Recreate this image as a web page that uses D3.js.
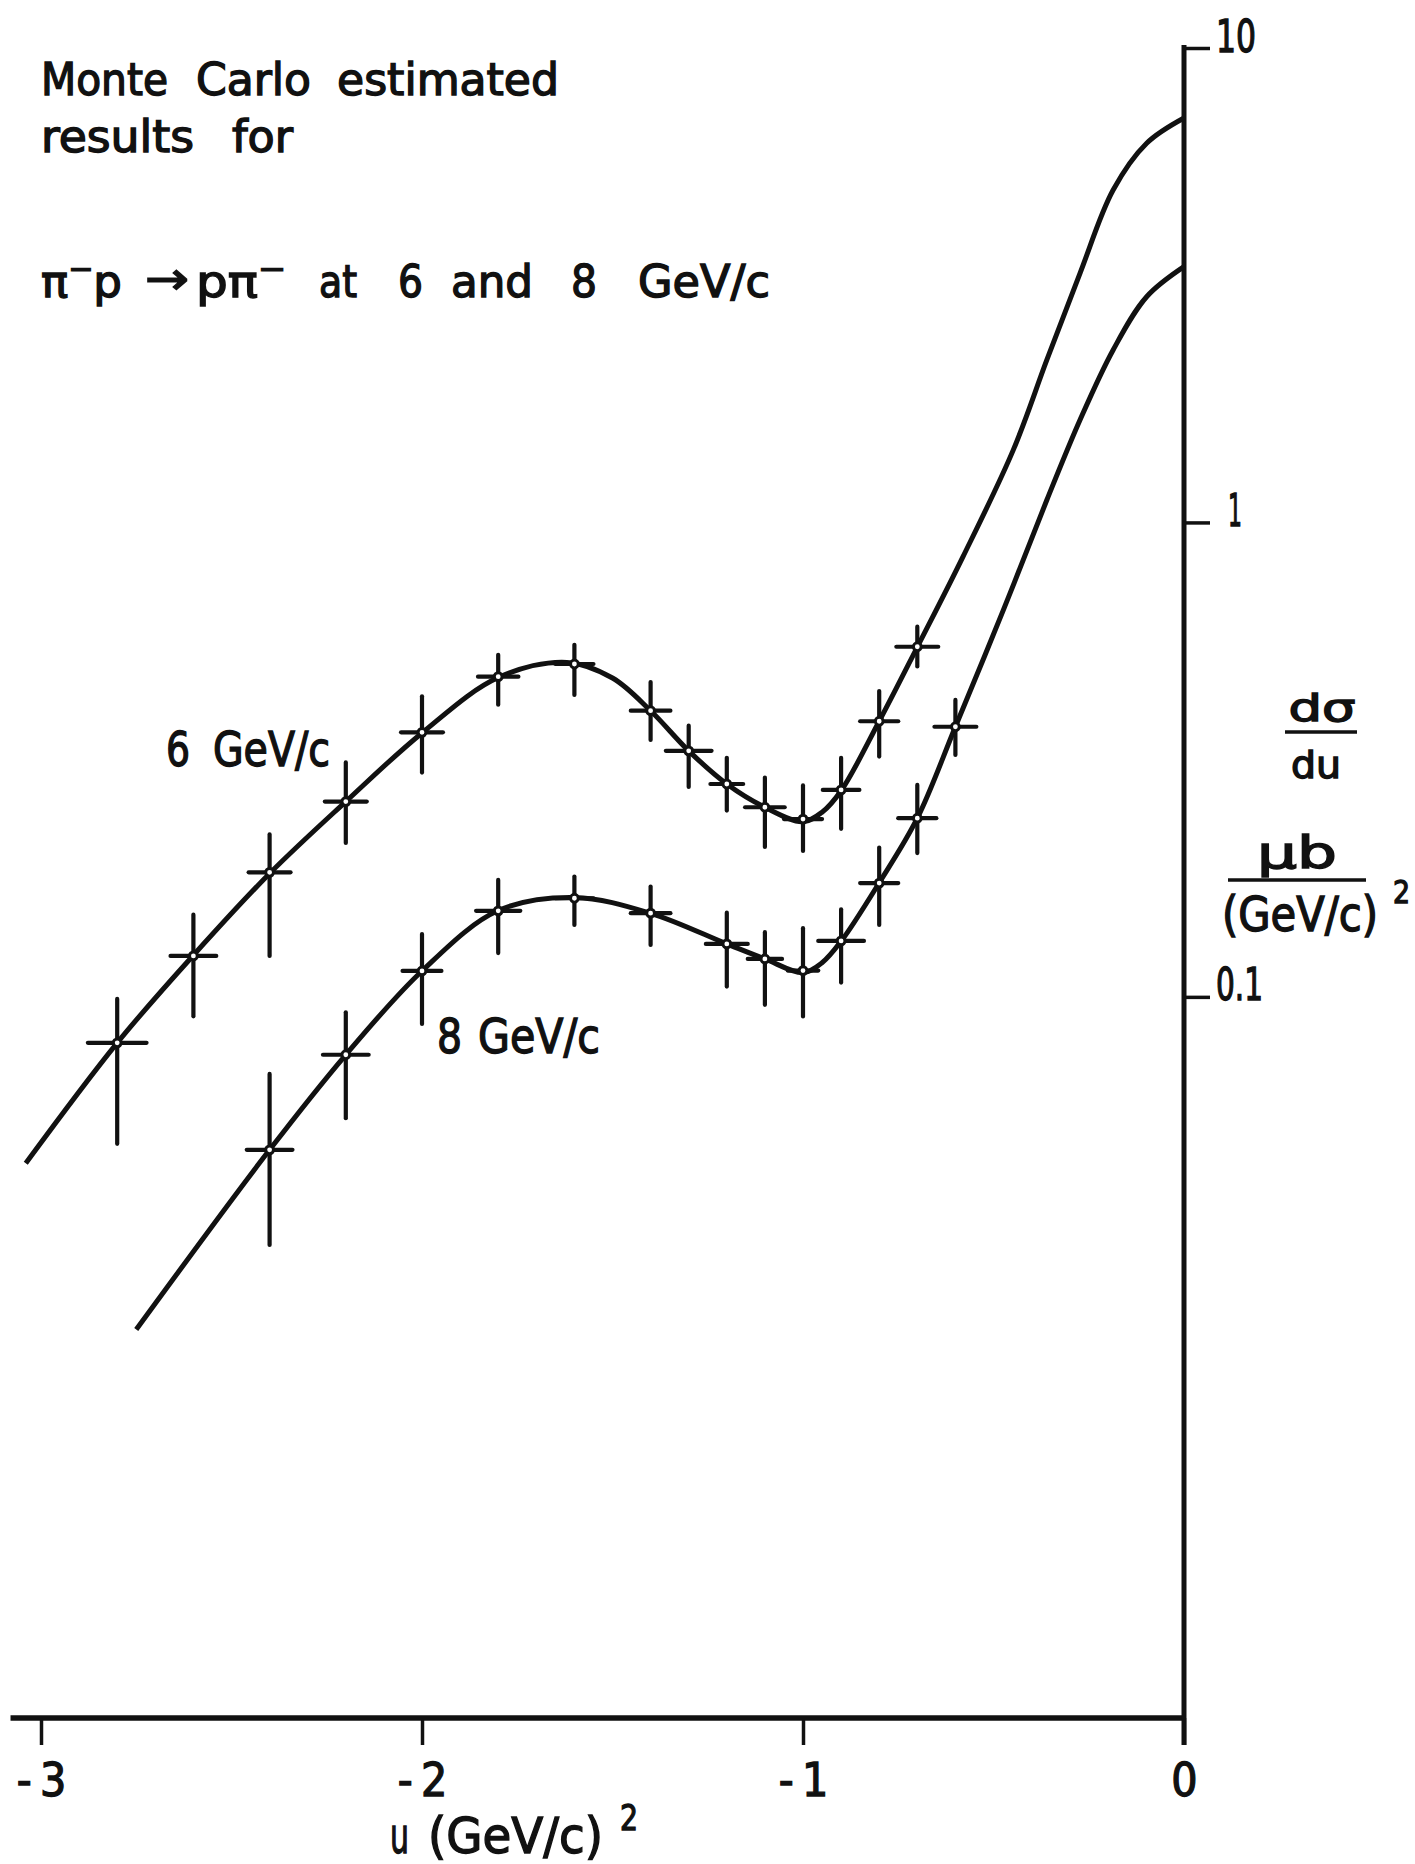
<!DOCTYPE html>
<html>
<head>
<meta charset="utf-8">
<script src="https://cdn.jsdelivr.net/npm/d3@7"></script>
<style>
  body { margin: 0; background: #fff; }
  svg text {
    font-family: "Liberation Sans Narrow", "DejaVu Sans Condensed", "Liberation Sans", sans-serif;
    fill: #111; stroke: #111; stroke-width: 1.3px;
  }
</style>
</head>
<body>
<div id="chart"></div>
<script>
// ---- data ----
// 6 GeV/c Monte Carlo points
const u6  = [-2.8, -2.6, -2.4, -2.2, -2.0, -1.8, -1.6, -1.4, -1.3, -1.2, -1.1, -1.0, -0.9, -0.8, -0.7];
const v6  = [0.080, 0.122, 0.183, 0.258, 0.361, 0.473, 0.503, 0.401, 0.330, 0.281, 0.251, 0.237, 0.273, 0.381, 0.547];
const hi6 = [0.099, 0.149, 0.220, 0.312, 0.430, 0.526, 0.552, 0.461, 0.373, 0.319, 0.290, 0.279, 0.319, 0.441, 0.603];
const lo6 = [0.049, 0.091, 0.122, 0.211, 0.297, 0.413, 0.433, 0.348, 0.277, 0.247, 0.207, 0.203, 0.226, 0.321, 0.497];
const du6 = [0.077, 0.06, 0.055, 0.055, 0.055, 0.053, 0.05, 0.052, 0.06, 0.043, 0.052, 0.05, 0.048, 0.05, 0.055];

// 8 GeV/c Monte Carlo points
const u8  = [-2.4, -2.2, -2.0, -1.8, -1.6, -1.4, -1.2, -1.1, -1.0, -0.9, -0.8, -0.7, -0.6];
const v8  = [0.0476, 0.0755, 0.1134, 0.1518, 0.1614, 0.1501, 0.1293, 0.1202, 0.1136, 0.1312, 0.1737, 0.238, 0.371];
const hi8 = [0.0688, 0.0928, 0.1356, 0.1764, 0.1793, 0.1708, 0.1505, 0.1369, 0.1396, 0.1530, 0.2064, 0.2797, 0.4225];
const lo8 = [0.0300, 0.0555, 0.0877, 0.1237, 0.1418, 0.1287, 0.1051, 0.0962, 0.0909, 0.1072, 0.1418, 0.2009, 0.3236];
const du8 = [0.06, 0.06, 0.051, 0.058, 0.05, 0.052, 0.055, 0.045, 0.04, 0.06, 0.05, 0.05, 0.055];

// hand drawn curves through the points
const curve6U = [-3.04, -2.8, -2.6, -2.4, -2.2, -2.0, -1.8, -1.62, -1.5, -1.4, -1.3, -1.2, -1.1, -1.0, -0.95, -0.9, -0.8, -0.7, -0.58, -0.448, -0.36, -0.273, -0.186, -0.098, 0];
const curve6V = [0.0446, 0.080, 0.1224, 0.182, 0.258, 0.360, 0.471, 0.507, 0.470, 0.401, 0.330, 0.281, 0.251, 0.234, 0.245, 0.272, 0.381, 0.546, 0.847, 1.422, 2.20, 3.35, 5.02, 6.30, 7.12];
const curve8U = [-2.75, -2.4, -2.2, -2.0, -1.8, -1.6, -1.4, -1.2, -1.1, -1.0, -0.95, -0.9, -0.8, -0.7, -0.6, -0.474, -0.36, -0.273, -0.186, -0.098, 0];
const curve8V = [0.0199, 0.0476, 0.0755, 0.1134, 0.152, 0.162, 0.150, 0.1293, 0.1202, 0.1125, 0.118, 0.131, 0.174, 0.238, 0.371, 0.654, 1.115, 1.644, 2.31, 2.99, 3.46];

const xTicks = [-3, -2, -1, 0];
const xTickLabels = ["-\u20093", "-\u20092", "-\u20091", "0"];
const yTicks = [10, 1, 0.1];
const yTickLabels = ["10", "1", "0.1"];

// ---- layout ----
const W = 1415, H = 1864;
const svg = d3.select("#chart").append("svg")
  .attr("width", W).attr("height", H)
  .style("background", "#fff");

const x = d3.scaleLinear().domain([-3, 0]).range([41, 1184]);
const y = d3.scaleLog().domain([Math.pow(10, -2.52), 10]).range([1718, 48]);

const ink = "#111";

// small helper for a piece of text squeezed to a measured width
function word(x0, y0, str, size, w, anchor) {
  const t = svg.append("text")
    .attr("x", x0).attr("y", y0)
    .attr("font-size", size)
    .attr("text-anchor", anchor || "start")
    .text(str);
  if (w) t.attr("textLength", w).attr("lengthAdjust", "spacingAndGlyphs");
  return t;
}

// x axis
const xAxis = svg.append("g")
  .attr("transform", `translate(0, ${y.range()[0]})`)
  .call(d3.axisBottom(x).tickValues(xTicks).tickSize(27).tickFormat((d, i) => xTickLabels[i]));
xAxis.select(".domain").remove();
xAxis.selectAll(".tick line").attr("stroke", ink).attr("stroke-width", 3.5);
xAxis.selectAll(".tick text")
  .attr("y", 78).attr("dy", 0)
  .attr("font-size", 46)
  .attr("fill", ink);
svg.append("line")
  .attr("x1", x(-3.08)).attr("x2", x(0) + 2)
  .attr("y1", y.range()[0]).attr("y2", y.range()[0])
  .attr("stroke", ink).attr("stroke-width", 5.5);

// y axis, on the right at u = 0
const yLabelW = [40, 14, 47];
const yAxis = svg.append("g")
  .attr("transform", `translate(${x(0)}, 0)`)
  .call(d3.axisRight(y).tickValues(yTicks).tickSize(26).tickFormat((d, i) => yTickLabels[i]));
yAxis.select(".domain").remove();
yAxis.selectAll(".tick line").attr("stroke", ink).attr("stroke-width", 3.5);
yAxis.selectAll(".tick text")
  .attr("x", (d, i) => i === 1 ? 44 : 32).attr("dy", 3)
  .attr("font-size", 45)
  .attr("fill", ink)
  .attr("textLength", (d, i) => yLabelW[i])
  .attr("lengthAdjust", "spacingAndGlyphs");
svg.append("line")
  .attr("x1", x(0)).attr("x2", x(0))
  .attr("y1", y(10) - 3).attr("y2", y.range()[0] + 27)
  .attr("stroke", ink).attr("stroke-width", 5);

// curves
const line = d3.line()
  .x(d => x(d[0]))
  .y(d => y(d[1]))
  .curve(d3.curveCatmullRom.alpha(0.5));

svg.append("path")
  .datum(d3.zip(curve6U, curve6V))
  .attr("d", line)
  .attr("fill", "none").attr("stroke", ink).attr("stroke-width", 5);
svg.append("path")
  .datum(d3.zip(curve8U, curve8V))
  .attr("d", line)
  .attr("fill", "none").attr("stroke", ink).attr("stroke-width", 5);

// error bars + open circles
function drawPoints(us, vs, his, los, dus) {
  const pts = us.map((u, i) => ({u: u, v: vs[i], hi: his[i], lo: los[i], du: dus[i]}));
  const g = svg.append("g");
  g.selectAll(".ey").data(pts).join("line")
    .attr("x1", d => x(d.u)).attr("x2", d => x(d.u))
    .attr("y1", d => y(d.hi)).attr("y2", d => y(d.lo))
    .attr("stroke", ink).attr("stroke-width", 4.2).attr("stroke-linecap", "round");
  g.selectAll(".ex").data(pts).join("line")
    .attr("x1", d => x(d.u - d.du)).attr("x2", d => x(d.u + d.du))
    .attr("y1", d => y(d.v)).attr("y2", d => y(d.v))
    .attr("stroke", ink).attr("stroke-width", 4.2).attr("stroke-linecap", "round");
  g.selectAll("circle").data(pts).join("circle")
    .attr("cx", d => x(d.u)).attr("cy", d => y(d.v))
    .attr("r", 3.9)
    .attr("fill", "#fff").attr("stroke", ink).attr("stroke-width", 3);
}
drawPoints(u6, v6, hi6, lo6, du6);
drawPoints(u8, v8, hi8, lo8, du8);

// title block
word(41, 95, "Monte", 45, 127);
word(196, 95, "Carlo", 45, 115);
word(337, 95, "estimated", 45, 222);
word(41, 152, "results", 45, 153);
word(232, 152, "for", 45, 61);

const r1 = svg.append("text").attr("x", 41).attr("y", 297).attr("font-size", 45)
  .attr("textLength", 81).attr("lengthAdjust", "spacingAndGlyphs");
r1.append("tspan").text("\u03c0");
r1.append("tspan").attr("dy", -18).attr("font-size", 30).text("\u2212");
r1.append("tspan").attr("dy", 18).text("p");
word(145, 294, "\u2192", 45, 44);
const r2 = svg.append("text").attr("x", 196).attr("y", 297).attr("font-size", 45)
  .attr("textLength", 90).attr("lengthAdjust", "spacingAndGlyphs");
r2.append("tspan").text("p\u03c0");
r2.append("tspan").attr("dy", -18).attr("font-size", 30).text("\u2212");
word(319, 297, "at", 45, 38);
word(398, 297, "6", 45, 25);
word(451, 297, "and", 45, 82);
word(571, 297, "8", 45, 26);
word(638, 297, "GeV/c", 45, 132);

// curve labels
word(166, 766, "6", 48, 24);
word(213, 766, "GeV/c", 48, 117);
word(437, 1053, "8", 48, 25);
word(478, 1053, "GeV/c", 48, 122);

// x axis title
word(390, 1853, "u", 50, 19);
word(428, 1853, "(GeV/c)", 50, 175);
word(620, 1830, "2", 36, 18);

// y axis title
word(1322, 721, "d\u03c3", 38, 67, "middle");
svg.append("line").attr("x1", 1285).attr("x2", 1357).attr("y1", 732).attr("y2", 732)
  .attr("stroke", ink).attr("stroke-width", 3.5);
word(1316, 778, "du", 38, 50, "middle");
word(1297, 868, "\u03bcb", 44, 80, "middle");
svg.append("line").attr("x1", 1228).attr("x2", 1366).attr("y1", 880).attr("y2", 880)
  .attr("stroke", ink).attr("stroke-width", 3.5);
word(1222, 931, "(GeV/c)", 48, 156);
word(1393, 903, "2", 32, 17);
</script>
</body>
</html>
